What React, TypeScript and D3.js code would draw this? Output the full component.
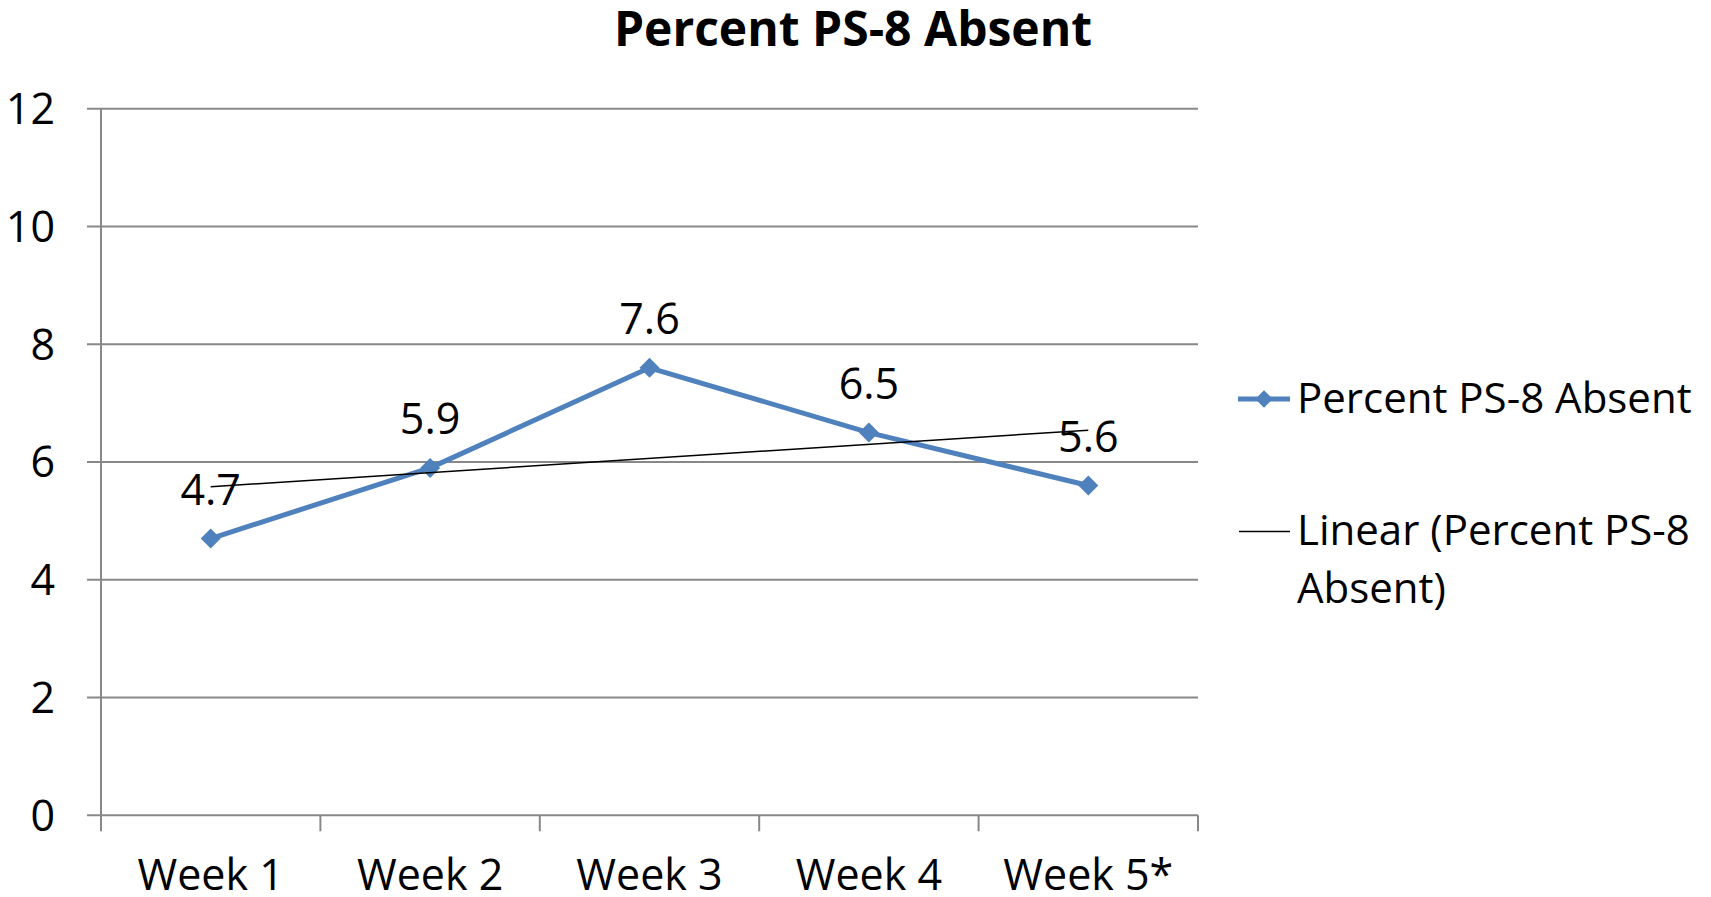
import { useEffect } from 'react';
import * as d3 from 'd3';

const categories = ['Week 1', 'Week 2', 'Week 3', 'Week 4', 'Week 5*'];
const absentValues = [4.7, 5.9, 7.6, 6.5, 5.6];
const yTickValues = [0, 2, 4, 6, 8, 10, 12];
const seriesName = 'Percent PS-8 Absent';
const trendNameLines = ['Linear (Percent PS-8', 'Absent)'];
const chartTitle = 'Percent PS-8 Absent';

const width = 1711;
const height = 897;
const blue = '#4f81bd';
const gridColor = '#888888';
const font = "'Open Sans', sans-serif";

export default function App() {
  useEffect(() => {
    document.body.style.margin = '0';
    document.body.style.overflow = 'hidden';
  }, []);

  // Plot area
  const left = 101;
  const right = 1198;
  const top = 108.7;
  const bottom = 815.3;

  const x = d3.scaleBand<string>().domain(categories).range([left, right]);
  const y = d3.scaleLinear().domain([0, 12]).range([bottom, top]);
  const cx = (c: string) => (x(c) as number) + x.bandwidth() / 2;

  const line = d3.line<number>()
    .x((_, i) => cx(categories[i]))
    .y(d => y(d));

  // Least-squares trendline over category index
  const idx = absentValues.map((_, i) => i + 1);
  const mx = d3.mean(idx) as number;
  const my = d3.mean(absentValues) as number;
  const slope = d3.sum(idx, (v, i) => (v - mx) * (absentValues[i] - my)) / d3.sum(idx, v => (v - mx) ** 2);
  const intercept = my - slope * mx;
  const trendStart = intercept + slope * 1;
  const trendEnd = intercept + slope * categories.length;

  const diamond = d3.symbol(d3.symbolSquare, 200)() as string;
  const legendDiamond = d3.symbol(d3.symbolSquare, 150)() as string;

  const boundaries = [...categories.map(c => x(c) as number), right];

  return (
    <svg width={width} height={height} style={{ display: 'block', background: '#fff' }}>
      <text x={853} y={46} textAnchor="middle" fontFamily={font} fontWeight="bold" fontSize={48}>
        {chartTitle}
      </text>

      {/* gridlines + y ticks */}
      {yTickValues.map(t => (
        <g key={t}>
          <line x1={87} x2={right} y1={y(t)} y2={y(t)} stroke={gridColor} strokeWidth={2} />
          <text x={55} y={y(t)} dy="0.36em" textAnchor="end" fontFamily={font} fontSize={43}>
            {t}
          </text>
        </g>
      ))}

      {/* axes */}
      <line x1={left} x2={left} y1={top} y2={bottom} stroke={gridColor} strokeWidth={2} />
      {boundaries.map((b, i) => (
        <line key={i} x1={b} x2={b} y1={bottom} y2={bottom + 16} stroke={gridColor} strokeWidth={2} />
      ))}
      {categories.map(c => (
        <text key={c} x={cx(c)} y={890} textAnchor="middle" fontFamily={font} fontSize={43}>
          {c}
        </text>
      ))}

      {/* series */}
      <path d={line(absentValues) as string} fill="none" stroke={blue} strokeWidth={5} strokeLinejoin="round" />
      {absentValues.map((v, i) => (
        <path key={i} d={diamond} transform={`translate(${cx(categories[i])},${y(v)}) rotate(45)`} fill={blue} />
      ))}

      {/* trendline */}
      <line
        x1={cx(categories[0])}
        x2={cx(categories[categories.length - 1])}
        y1={y(trendStart)}
        y2={y(trendEnd)}
        stroke="#000"
        strokeWidth={1.5}
      />

      {/* data labels */}
      {absentValues.map((v, i) => (
        <text key={i} x={cx(categories[i])} y={y(v) - 34} textAnchor="middle" fontFamily={font} fontSize={43}>
          {v.toFixed(1)}
        </text>
      ))}

      {/* legend */}
      <line x1={1238} x2={1290} y1={399} y2={399} stroke={blue} strokeWidth={5} />
      <path d={legendDiamond} transform="translate(1264,399) rotate(45)" fill={blue} />
      <text x={1297} y={413} fontFamily={font} fontSize={42}>{seriesName}</text>
      <line x1={1239} x2={1290} y1={531.5} y2={531.5} stroke="#000" strokeWidth={1.5} />
      {trendNameLines.map((t, i) => (
        <text key={i} x={1297} y={545 + i * 58} fontFamily={font} fontSize={42}>{t}</text>
      ))}
    </svg>
  );
}
